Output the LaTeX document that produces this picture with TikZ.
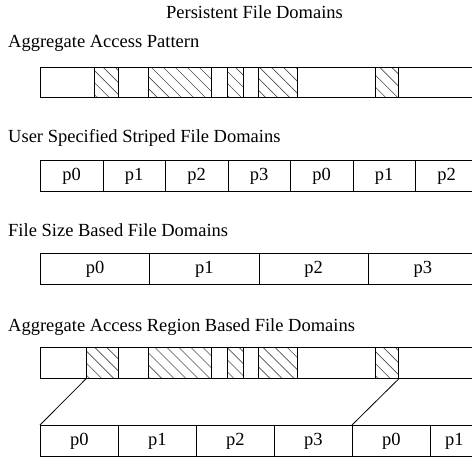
\documentclass[tikz,border=0pt]{standalone}
\usepackage{fontspec}
\setmainfont{Liberation Serif}
\usetikzlibrary{patterns.meta}
\begin{document}
\begin{tikzpicture}[x=1pt,y=-1pt,
  frame/.style={draw, line width=0.8pt},
  cell/.style={draw, line width=0.8pt, inner sep=0pt, anchor=north west, minimum height=31pt, font=\fontsize{18.5}{22}\selectfont},
  hatchbox/.style={draw, line width=0.8pt, inner sep=0pt, anchor=north west, minimum height=31pt, pattern={Lines[angle=-45,distance=8.5pt,line width=0.6pt]}, pattern color=black!70},
  title/.style={anchor=base west, inner sep=0pt, font=\fontsize{18.5}{22}\selectfont}]
\useasboundingbox (0,0) rectangle (472,457);
\clip (0,0) rectangle (472,457);
% titles
\node[title, anchor=base] (t0) at (254.5,18.5) {Persistent File Domains};
\node[title] (t1) at (8,48) {Aggregate Access Pattern};
\node[title] (t2) at (8,143) {User Specified Striped File Domains};
\node[title] (t3) at (8,237) {File Size Based File Domains};
\node[title] (t4) at (8,332) {Aggregate Access Region Based File Domains};
% bar 1: aggregate access pattern
\node[cell, minimum width=450pt, minimum height=30pt] (bar1) at (40,67) {};
\foreach \n/\a/\b in {1/94/118, 2/148/211, 3/227/243, 4/258/297, 5/375/398}
  \node[hatchbox, minimum height=30pt, minimum width=\b pt-\a pt] (a\n) at (\a,67) {};
% bar 2: striped
\foreach \i/\l in {0/p0,1/p1,2/p2,3/p3,4/p0,5/p1,6/p2}
  \node[cell, minimum width=62.5pt] (s\i) at ({40+62.5*\i},160) {\l};
% bar 3: file size
\foreach \i/\l in {0/p0,1/p1,2/p2,3/p3}
  \node[cell, minimum width=109.3pt] (f\i) at ({40+109.3*\i},253) {\l};
% bar 4: aggregate access region
\node[cell, minimum width=450pt] (bar4) at (40,347) {};
\foreach \n/\a/\b in {1/86/118, 2/148/211, 3/227/243, 4/258/297, 5/375/398}
  \node[hatchbox, minimum width=\b pt-\a pt] (d\n) at (\a,347) {};
% bar 5: region-based domains
\foreach \i/\l in {0/p0,1/p1,2/p2,3/p3,4/p0}
  \node[cell, minimum width=78pt] (e\i) at ({40+78*\i},425) {\l};
\node[cell, minimum width=48pt] (e5) at (430,425) {p1};
% connectors
\draw[frame] (d1.south west) -- (e0.north west);
\draw[frame] (d5.south east) -- (e4.north west);
\end{tikzpicture}
\end{document}
